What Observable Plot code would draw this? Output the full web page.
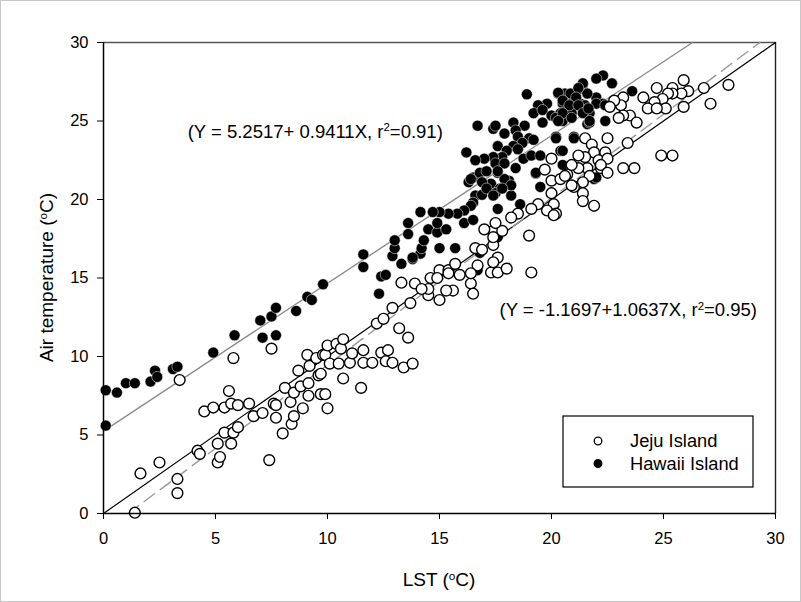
<!DOCTYPE html>
<html><head><meta charset="utf-8">
<script src="https://cdn.jsdelivr.net/npm/d3@7"></script>
<script src="https://cdn.jsdelivr.net/npm/@observablehq/plot@0.6"></script>
<style>
body{margin:0;background:#fff;}
#chart svg{display:block;}
</style>
</head><body><div id="chart"></div>
<script>
// Jeju Island: [LST, air temperature]
const jeju = [
[1.4,0.05],[1.65,2.55],[2.5,3.25],[3.3,2.2],[3.3,1.3],[3.4,8.5],[4.2,4.0],[4.3,3.8],[4.5,6.5],[4.9,6.75],
[5.1,3.25],[5.2,3.6],[5.1,4.45],[5.4,5.15],[5.4,6.75],[5.6,7.8],[5.7,4.45],[5.7,7.0],[5.8,5.15],[5.8,9.9],
[6.0,5.5],[6.0,6.9],[6.5,7.0],[6.7,6.2],[7.1,6.4],[7.4,3.4],[7.5,10.5],[7.6,7.0],[7.7,6.9],[7.7,6.1],
[8.0,5.1],[8.1,8.0],[8.35,7.1],[8.4,5.7],[8.5,6.2],[8.5,7.7],[8.7,9.1],[8.8,8.1],[8.9,6.7],[9.15,8.3],
[9.15,7.5],[9.1,10.1],[9.2,9.4],[9.5,9.9],[9.6,8.8],[9.7,8.9],[9.7,7.6],[9.8,10.1],[9.9,7.6],[9.9,10.1],
[10.0,6.7],[10.0,10.7],[10.1,9.55],[10.4,10.8],[10.5,9.55],[10.6,10.5],[10.7,8.6],[10.7,11.1],[11.0,9.6],[11.1,10.2],
[11.5,8.0],[11.6,10.4],[11.6,9.6],[12.0,9.6],[12.4,10.25],[12.6,9.7],[12.7,10.4],[12.9,9.6],[13.4,9.3],[13.8,9.55],
[13.2,11.8],[13.6,11.2],[12.2,12.1],[12.5,12.4],[12.9,13.1],[13.3,14.7],[13.9,14.65],[13.7,13.4],[14.5,13.9],[14.5,14.3],
[15.0,13.6],[14.6,15.0],[15.0,15.5],[15.4,15.5],[15.6,14.2],[15.9,15.2],[15.7,15.9],[16.4,14.65],[16.5,14.0],[16.6,16.9],
[17.4,17.1],[17.6,16.3],[17.3,15.35],[17.6,15.35],[18.0,15.6],[17.4,16.0],[17.4,18.0],[17.8,18.0],[17.0,18.1],[19.0,17.7],
[19.1,15.35],[20.0,21.2],[20.0,20.4],[19.4,19.7],[20.1,19.7],[20.2,19.1],[19.8,19.3],[19.1,19.4],[18.5,19.1],[18.2,18.85],
[17.5,18.5],[17.4,17.6],[16.9,16.8],[16.7,15.8],[16.4,15.3],[15.4,15.3],[14.9,15.0],[14.2,14.3],[15.3,14.2],
[27.9,27.3],[26.8,27.1],[27.1,26.1],[25.9,27.6],[26.1,26.9],[25.9,25.9],[25.4,27.1],[25.8,26.75],[25.4,26.75],[25.2,26.75],
[24.96,26.4],[24.7,27.1],[24.6,26.2],[25.1,25.8],[24.3,25.8],[24.1,26.5],[24.7,25.8],[23.5,25.35],[23.2,26.5],[23.1,26.0],
[23.2,25.35],[23.0,25.2],[22.8,26.3],[23.8,24.9],[22.5,23.9],[23.4,23.6],[24.9,22.8],[25.4,22.8],[23.2,22.0],[23.7,22.0],
[21.5,23.9],[21.8,23.5],[21.9,23.0],[21.5,22.7],[22.4,23.0],[22.1,22.5],[22.5,22.6],[21.6,22.0],[22.2,22.0],[21.7,21.5],
[21.4,21.1],[21.4,20.4],[21.4,19.9],[21.9,19.6],[20.1,19.0],[21.0,20.8],[22.6,25.9],[22.2,22.2],[21.2,22.0],[20.4,21.3],
[20.7,21.6],[22.5,21.7],[21.2,22.8],[20.9,22.2],[20.6,21.5],[20.9,20.9],[20.0,22.6],[19.7,21.9]
];
// Hawaii Island: [LST, air temperature]
const hawaii = [
[0.1,5.6],[0.1,7.85],[0.6,7.7],[1.0,8.3],[1.4,8.3],[2.1,8.4],[2.3,9.1],[2.4,8.7],[3.1,9.2],[3.3,9.35],
[4.9,10.25],[5.85,11.35],[7.0,12.3],[7.1,11.2],[7.5,12.55],[7.7,13.1],[7.7,11.35],[8.6,12.9],[9.1,13.8],[9.3,13.6],
[9.8,14.6],[11.6,16.5],[11.6,15.7],[12.3,14.0],[12.4,15.1],[12.6,15.2],[12.9,16.4],[13.0,16.9],[13.0,17.4],[13.3,15.9],
[13.6,17.8],[13.6,18.5],[13.8,16.2],[14.15,16.55],[14.2,16.9],[14.3,17.4],[14.5,18.1],[14.9,17.9],[15.0,16.9],[15.3,18.1],
[15.7,16.9],[16.1,18.5],[16.8,16.6],[16.7,15.5],[17.6,17.6],[16.5,21.4],[16.8,21.7],[16.3,21.1],[17.6,21.7],[18.1,21.2],
[17.3,21.0],[17.7,20.7],[17.5,20.4],[18.2,20.25],[16.6,20.25],[16.5,19.8],[16.9,20.3],[19.3,21.65],[19.5,20.8],[18.6,19.7],
[17.6,19.4],[16.4,19.6],[16.1,19.3],[16.5,18.7],[15.8,19.1],[15.4,19.1],[15.0,19.2],[14.7,19.2],[14.9,18.5],[14.15,19.2],
[13.8,16.3],[18.9,26.7],[19.8,26.1],[19.4,26.0],[19.2,25.5],[19.6,25.7],[20.0,25.35],[20.3,26.75],[20.6,26.75],[21.2,27.0],
[21.4,27.3],[20.5,26.1],[20.85,26.1],[21.3,26.1],[20.4,25.5],[20.9,25.5],[21.6,24.8],[20.2,25.2],[20.5,25.0],[19.6,24.9],
[20.2,24.0],[21.0,24.0],[20.4,23.1],[20.5,22.2],[16.7,24.7],[17.4,24.5],[17.5,24.7],[18.3,24.9],[18.8,24.7],[18.4,24.4],
[17.9,24.2],[18.5,24.0],[19.0,23.9],[19.2,23.8],[18.7,23.6],[18.3,23.4],[17.6,23.4],[18.0,23.1],[18.5,23.2],[17.8,22.7],
[17.4,22.7],[17.5,22.3],[17.9,22.3],[17.0,22.6],[16.6,22.5],[16.2,23.0],[18.4,22.0],[18.75,22.6],[19.1,22.8],[19.5,22.8],
[19.3,21.7],[17.9,21.3],[18.2,20.9],[17.6,21.8],[17.1,21.8],[16.4,21.3],[16.9,21.1],[17.1,20.7],[17.8,20.7],[17.4,20.25],
[22.3,27.9],[22.0,27.7],[21.4,27.4],[22.7,27.4],[23.6,26.9],[22.0,26.5],[21.6,26.75],[22.3,26.1],[22.0,26.1],[21.5,26.0],
[21.4,25.7],[21.7,25.5],[22.4,25.0],[21.7,24.9],[21.9,21.3],[22.0,21.4],[20.3,26.8],[20.85,26.75],[21.2,27.1],[20.5,26.3],
[21.1,26.5],[20.8,26.0],[21.2,26.0],[21.4,25.5],[21.65,25.8],[22.4,26.0],[20.5,25.5],[20.3,25.0],[20.9,25.2],[21.7,25.0],
[20.2,23.9],[21.0,23.9],[20.5,23.1]
];
const axisTicks = [0, 5, 10, 15, 20, 25, 30];
const hawaiiFit = {a: 5.2517, b: 0.9411, label: "(Y = 5.2517+ 0.9411X, r", r2: "=0.91)"};
const jejuFit = {a: -1.1697, b: 1.0637, label: "(Y = -1.1697+1.0637X, r", r2: "=0.95)"};
const seriesNames = ["Jeju Island", "Hawaii Island"];

const lo = 0, hi = 30;
function fitSegment(f) {
  const x0 = Math.max(lo, (lo - f.a) / f.b);
  const x1 = Math.min(hi, (hi - f.a) / f.b);
  return [{x: x0, y: f.a + f.b * x0}, {x: x1, y: f.a + f.b * x1}];
}
const oneToOne = [{x: lo, y: lo}, {x: hi, y: hi}];

const font = "'Liberation Sans', Arial, sans-serif";
const chart = Plot.plot({
  width: 801, height: 602,
  marginLeft: 103, marginRight: 26, marginTop: 42, marginBottom: 89,
  style: {fontFamily: font, fontSize: "16.5px", color: "#000", background: "#fff"},
  x: {domain: [lo, hi], ticks: axisTicks, tickSize: 6, tickPadding: 13, label: null, tickFormat: d => d},
  y: {domain: [lo, hi], ticks: axisTicks, tickSize: 6, tickPadding: 9, label: null, tickFormat: d => d},
  marks: [
    Plot.ruleY([hi], {stroke: "#555", strokeWidth: 1.6}),
    Plot.ruleX([hi], {stroke: "#222", strokeWidth: 1.4}),
    Plot.line(oneToOne, {x: "x", y: "y", stroke: "#000", strokeWidth: 1.2}),
    Plot.line(fitSegment(hawaiiFit), {x: "x", y: "y", stroke: "#8c8c8c", strokeWidth: 1.4}),
    Plot.line(fitSegment(jejuFit), {x: "x", y: "y", stroke: "#9a9a9a", strokeWidth: 1.4, strokeDasharray: "13,7"}),
    Plot.dot(hawaii, {x: d => d[0], y: d => d[1], r: 5.5, fill: "#000", stroke: "#fff", strokeWidth: 0.5}),
    Plot.dot(jeju, {x: d => d[0], y: d => d[1], r: 5.4, fill: "#fff", stroke: "#000", strokeWidth: 1.4}),
    Plot.ruleX([lo], {stroke: "#000", strokeWidth: 1.5}),
    Plot.ruleY([lo], {stroke: "#000", strokeWidth: 1.5})
  ]
});
document.getElementById("chart").appendChild(chart);

const svg = d3.select(chart);
const xs = chart.scale("x"), ys = chart.scale("y");
const W = 801, H = 602;
svg.insert("rect", ":first-child").attr("x", 0.5).attr("y", 0.5).attr("width", W - 1).attr("height", H - 1)
  .attr("fill", "#fff").attr("stroke", "#c8c8c8");

function supLabel(g, parts, anchor) {
  const t = g.append("text").attr("font-family", font).attr("fill", "#000").attr("text-anchor", anchor);
  t.append("tspan").text(parts[0]);
  t.append("tspan").attr("font-size", "0.62em").attr("dy", "-0.55em").text(parts[1]);
  t.append("tspan").attr("dy", "0.34em").text(parts[2]);
  return t;
}
// axis titles
supLabel(svg.append("g").attr("transform", `translate(${xs.apply(15)},586)`), ["LST (", "o", "C)"], "middle")
  .attr("font-size", 19);
supLabel(svg.append("g").attr("transform", `translate(53,${ys.apply(15)}) rotate(-90)`), ["Air temperature (", "o", "C)"], "middle")
  .attr("font-size", 19);
// regression equations
supLabel(svg.append("g").attr("transform", `translate(${xs.apply(3.78)},${ys.apply(23.9)})`), [hawaiiFit.label, "2", hawaiiFit.r2], "start")
  .attr("font-size", 18.5);
supLabel(svg.append("g").attr("transform", `translate(${xs.apply(17.7)},${ys.apply(12.55)})`), [jejuFit.label, "2", jejuFit.r2], "start")
  .attr("font-size", 18.5);

// legend
const lg = svg.append("g").attr("transform", "translate(563,416)");
lg.append("rect").attr("width", 190).attr("height", 71).attr("fill", "#fff").attr("stroke", "#000").attr("stroke-width", 1.2);
seriesNames.forEach((name, i) => {
  const cy = 25 + i * 22.5;
  lg.append("circle").attr("cx", 35).attr("cy", cy).attr("r", 3.8)
    .attr("fill", i === 0 ? "#fff" : "#000").attr("stroke", "#000").attr("stroke-width", 1.3);
  lg.append("text").attr("x", 67).attr("y", cy + 6).attr("text-anchor", "start")
    .attr("font-family", font).attr("font-size", 18.3).attr("fill", "#000").text(name);
});
</script>
</body></html>
